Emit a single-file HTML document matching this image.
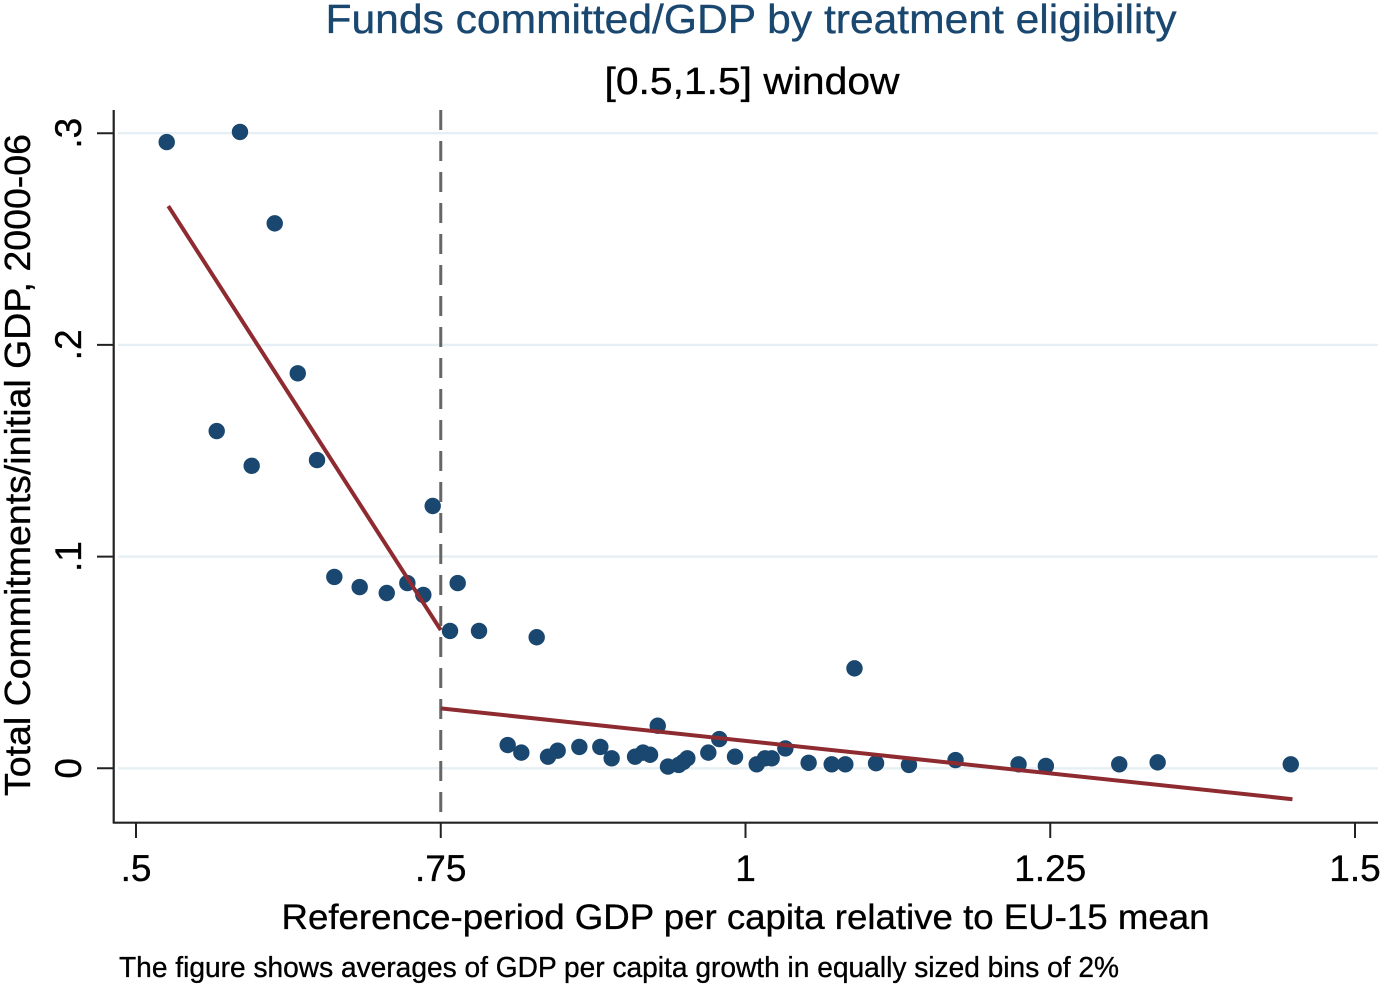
<!DOCTYPE html>
<html lang="en">
<head>
<meta charset="utf-8">
<title>Funds committed/GDP by treatment eligibility</title>
<style>
html,body{margin:0;padding:0;background:#fff;width:1382px;height:986px;overflow:hidden}
svg{display:block}
text{font-family:"Liberation Sans",sans-serif;fill:#000;stroke:#000;stroke-width:0.35px}
</style>
</head>
<body>
<svg id="chart" xmlns="http://www.w3.org/2000/svg" width="1382" height="986" viewBox="0 0 1382 986">
<rect x="0" y="0" width="1382" height="986" fill="#ffffff"/>
<g id="grid"></g>
<g id="axes"></g>
<g id="marks"></g>
<text x="751" y="33" text-anchor="middle" font-size="41" textLength="851" lengthAdjust="spacingAndGlyphs" style="fill:#1a476f;stroke:#1a476f">Funds committed/GDP by treatment eligibility</text>
<text x="752" y="94" text-anchor="middle" font-size="38" textLength="295" lengthAdjust="spacingAndGlyphs">[0.5,1.5] window</text>
<text x="745.5" y="929" text-anchor="middle" font-size="35" textLength="928" lengthAdjust="spacingAndGlyphs">Reference-period GDP per capita relative to EU-15 mean</text>
<text transform="translate(30,465) rotate(-90)" text-anchor="middle" font-size="36" textLength="662" lengthAdjust="spacingAndGlyphs">Total Commitments/initial GDP, 2000-06</text>
<text x="119" y="977" font-size="29" textLength="1000" lengthAdjust="spacingAndGlyphs">The figure shows averages of GDP per capita growth in equally sized bins of 2%</text>
</svg>
<script>
const xTicks = [0.5, 0.75, 1, 1.25, 1.5];
const xTickLabels = [".5", ".75", "1", "1.25", "1.5"];
const yTicks = [0, 0.1, 0.2, 0.3];
const yTickLabels = ["0", ".1", ".2", ".3"];
const cutoff = [0.75];
const binX = [0.5252,0.5853,0.6138,0.6327,0.5662,0.5949,0.6485,0.6627,0.6835,0.7057,0.7226,0.7357,0.7434,0.7576,0.7639,0.7814,0.8287,0.8049,0.8161,0.838,0.8459,0.8637,0.8809,0.8902,0.9094,0.9159,0.9217,0.928,0.9364,0.9452,0.949,0.9523,0.9695,0.9785,0.9914,1.0092,1.016,1.0215,1.0327,1.0518,1.0707,1.0819,1.0894,1.1071,1.1341,1.1723,1.224,1.2464,1.3066,1.3381,1.4473];
const binY = [0.2958,0.3006,0.2574,0.1866,0.1593,0.1429,0.1456,0.0904,0.0856,0.0828,0.0875,0.0819,0.1239,0.0649,0.0875,0.0649,0.0619,0.011,0.0074,0.0055,0.0083,0.0101,0.0101,0.0047,0.0055,0.0074,0.0064,0.0201,0.0008,0.0016,0.003,0.0047,0.0074,0.0138,0.0055,0.0019,0.0047,0.0047,0.0094,0.0026,0.0019,0.0019,0.0472,0.0024,0.0016,0.0039,0.0019,0.0011,0.0019,0.0028,0.0019];
const leftFitX = [0.5265, 0.75];
const leftFitY = [0.2656, 0.0653];
const rightFitX = [0.75, 1.4487];
const rightFitY = [0.0283, -0.0146];

const NS = "http://www.w3.org/2000/svg";
function sx(v){ return 136 + (v - 0.5) * 1219; }
function sy(v){ return 768.3 - v * 2117; }
function make(parent, tag, attrs, txt){
  const el = document.createElementNS(NS, tag);
  for (const k in attrs) el.setAttribute(k, attrs[k]);
  if (txt !== undefined) el.textContent = txt;
  parent.appendChild(el);
  return el;
}
const grid = document.getElementById("grid");
const axes = document.getElementById("axes");
const marks = document.getElementById("marks");

yTicks.forEach(function(t, i){
  const g = make(grid, "line", {x1:118, x2:1378, y1:sy(t), y2:sy(t), stroke:"#e6eff3", "stroke-width":2.4});
  
  
  const tick = make(axes, "line", {x1:97, x2:114, y1:sy(t), y2:sy(t), stroke:"#222", "stroke-width":2});
  
  
  const lab = make(axes, "text", {transform:"translate(81," + sy(t) + ") rotate(-90)", "text-anchor":"middle", "font-size":37}, yTickLabels[i]);
  
  
});
xTicks.forEach(function(t, i){
  const tick = make(axes, "line", {x1:sx(t), x2:sx(t), y1:823, y2:838, stroke:"#222", "stroke-width":2});
  
  
  const lab = make(axes, "text", {x:sx(t), y:881, "text-anchor":"middle", "font-size":37}, xTickLabels[i]);
  
  
});
const yAxis = make(axes, "line", {x1:113.7, x2:113.7, y1:110, y2:823.5, stroke:"#222", "stroke-width":2.2});


const xAxis = make(axes, "line", {x1:113, x2:1378, y1:822.7, y2:822.7, stroke:"#222", "stroke-width":2.2});



const cut = make(marks, "line", {x1:sx(cutoff[0]), x2:sx(cutoff[0]), y1:110, y2:823, stroke:"#666", "stroke-width":3, "stroke-dasharray":"20 11"});



binX.forEach(function(x, i){
  const c = make(marks, "circle", {cx:sx(x), cy:sy(binY[i]), r:8.2, fill:"#1a476f"});
  
  
});

const leftFit = make(marks, "line", {x1:sx(leftFitX[0]), y1:sy(leftFitY[0]), x2:sx(leftFitX[1]), y2:sy(leftFitY[1]), stroke:"#8e2b31", "stroke-width":4});


const rightFit = make(marks, "line", {x1:sx(rightFitX[0]), y1:sy(rightFitY[0]), x2:sx(rightFitX[1]), y2:sy(rightFitY[1]), stroke:"#8e2b31", "stroke-width":4});


</script>
</body>
</html>
